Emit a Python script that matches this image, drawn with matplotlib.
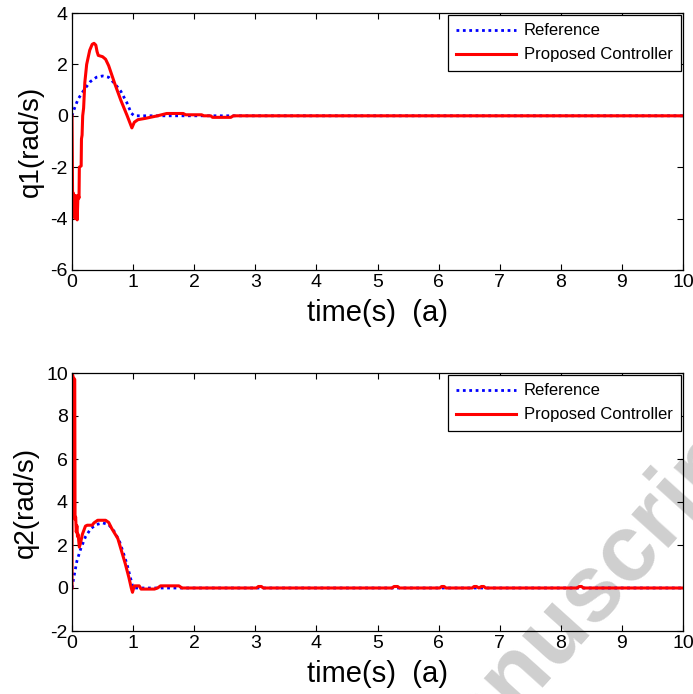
import matplotlib
matplotlib.use("Agg")
import matplotlib.pyplot as plt

# ---------------- data ----------------
t_ref1 = [0, 0.02, 0.05, 0.1, 0.2, 0.3, 0.4, 0.5, 0.6, 0.7, 0.8, 0.9, 0.97, 1.02, 10]
ref1 = [0, 0.15, 0.35, 0.65, 1.02, 1.33, 1.5, 1.55, 1.5, 1.25, 0.95, 0.5, 0.1, 0, 0]

t_ctl1 = [0, 0.005, 0.012, 0.02, 0.03, 0.04, 0.05, 0.06, 0.075, 0.085, 0.095, 0.105,
          0.115, 0.12, 0.15, 0.155, 0.165, 0.175, 0.19, 0.21, 0.24, 0.29, 0.33, 0.36,
          0.39, 0.41, 0.43, 0.5, 0.55, 0.6, 0.7, 0.8, 0.9, 0.98, 1.02, 1.08, 1.2, 1.3,
          1.4, 1.55, 1.82, 1.86, 2.12, 2.16, 2.27, 2.3, 2.6, 2.64, 10]
ctl1 = [0, -1.6, -3.9, -3.0, -3.8, -3.2, -4.0, -3.1, -3.8, -4.05, -3.3, -3.1,
        -3.2, -2.0, -1.95, -0.9, -0.75, 0.0, 0.3, 1.3, 2.0, 2.55, 2.78, 2.82,
        2.75, 2.5, 2.35, 2.3, 2.2, 1.95, 1.25, 0.6, 0.02, -0.47, -0.25, -0.15, -0.1, -0.05,
        0, 0.09, 0.09, 0.04, 0.04, 0, 0, -0.06, -0.06, 0, 0]

t_ref2 = [0, 0.03, 0.08, 0.14, 0.22, 0.31, 0.4, 0.5, 0.6, 0.7, 0.78, 0.85, 0.9, 0.95, 1.0, 10]
ref2 = [0, 0.5, 1.25, 1.8, 2.38, 2.77, 2.95, 3.03, 2.95, 2.6, 2.15, 1.55, 1.1, 0.55, 0, 0]

t_ctl2 = [0, 0.003, 0.02, 0.045, 0.05, 0.06, 0.07, 0.08, 0.09, 0.1, 0.12, 0.14, 0.17,
          0.22, 0.25, 0.33, 0.36, 0.42, 0.55, 0.6, 0.65, 0.75, 0.87, 0.93, 0.97, 0.99,
          1.02, 1.1, 1.13, 1.35, 1.4, 1.45, 1.75, 1.8,
          3.02, 3.05, 3.1, 3.13, 5.24, 5.27, 5.33, 5.36, 6.02, 6.05, 6.09, 6.12,
          6.55, 6.58, 6.62, 6.66, 6.7, 6.74, 6.77, 8.27, 8.3, 8.34, 8.37, 10]
ctl2 = [0, 10, 9.8, 9.7, 3.2, 3.3, 2.6, 2.9, 2.4, 2.5, 1.9, 2.1, 2.5,
        2.88, 2.92, 2.92, 3.03, 3.15, 3.15, 3.05, 2.77, 2.3, 1.15, 0.5, 0, -0.2,
        0.1, 0.1, -0.05, -0.05, 0, 0.1, 0.1, 0,
        0, 0.07, 0.07, 0, 0, 0.07, 0.07, 0, 0, 0.07, 0.07, 0,
        0, 0.07, 0.07, 0, 0.07, 0.07, 0, 0, 0.07, 0.07, 0, 0]

x_ticks = list(range(0, 11))
y_ticks1 = [-6, -4, -2, 0, 2, 4]
y_ticks2 = [-2, 0, 2, 4, 6, 8, 10]
x_label = "time(s)  (a)"
y_label1 = "q1(rad/s)"
y_label2 = "q2(rad/s)"
legend_labels = ["Reference", "Proposed Controller"]

# ---------------- figure ----------------
plt.rcParams['font.family'] = ['Liberation Sans', 'DejaVu Sans']
plt.rcParams['axes.unicode_minus'] = False
W, H = 693, 694
fig = plt.figure(figsize=(W / 100, H / 100), dpi=100)
fig.patch.set_facecolor('white')

left = 72 / W
width = (683 - 72) / W
ax1 = fig.add_axes([left, 1 - 270 / H, width, (270 - 13) / H])
ax2 = fig.add_axes([left, 1 - 631 / H, width, (631 - 373) / H])

# watermark behind the plots (partially outside the canvas, as in the reference)
fig.text(578 / W, 1 - 605 / H, "Manuscript", rotation=48, rotation_mode='anchor',
         ha='center', va='center', fontsize=68, fontweight='bold',
         color='#cfcfcf', zorder=-5)

panels = [
    (ax1, t_ref1, ref1, t_ctl1, ctl1, (-6, 4), y_ticks1, y_label1),
    (ax2, t_ref2, ref2, t_ctl2, ctl2, (-2, 10), y_ticks2, y_label2),
]
for ax, tr, r, tc, c, ylim, yt, yl in panels:
    ax.patch.set_alpha(0)
    ax.plot(tr, r, color='#0000ff', linestyle=(0, (1, 1.3)), linewidth=2.0,
            label=legend_labels[0])
    ax.plot(tc, c, color='#ff0000', linestyle='-', linewidth=2.2,
            label=legend_labels[1])
    ax.set_xlim(0, 10)
    ax.set_ylim(*ylim)
    ax.set_xticks(x_ticks)
    ax.set_yticks(yt)
    ax.tick_params(direction='in', top=True, right=True, length=4, width=0.8,
                   labelsize=14, pad=3, colors='black')
    for s in ax.spines.values():
        s.set_linewidth(0.9)
        s.set_color('black')
    ax.set_xlabel(x_label, fontsize=21, labelpad=6)
    ax.set_ylabel(yl, fontsize=20, labelpad=5)
    leg = ax.legend(loc='upper right', bbox_to_anchor=(1.0, 1.0), borderaxespad=0.12,
                    fontsize=12, frameon=True, fancybox=False, framealpha=1,
                    edgecolor='black', handlelength=3.6, handletextpad=0.45,
                    labelspacing=0.55, borderpad=0.5)
    leg.get_frame().set_linewidth(0.9)

fig.savefig("out.png", dpi=100, facecolor='white')
